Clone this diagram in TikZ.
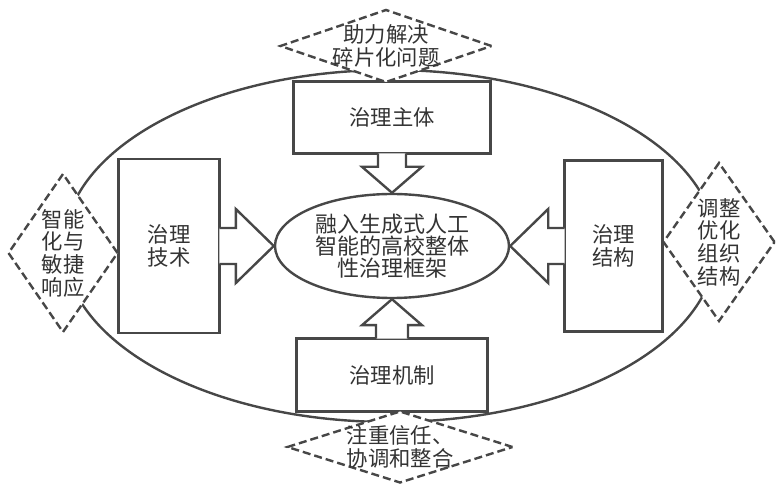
\documentclass[tikz,border=0pt]{standalone}
\usepackage{fontspec}
\setmainfont{Noto Sans CJK SC}
\usetikzlibrary{positioning,shapes.geometric}

\definecolor{linegray}{HTML}{474747}
\definecolor{textgray}{HTML}{333333}

\begin{document}
\begin{tikzpicture}[x=0.75pt,y=0.75pt,
			outline/.style={draw=linegray, line width=1.8pt},
			framed/.style={outline, rectangle, fill=white, text=textgray, align=center, inner sep=0,
				font=\fontsize{16pt}{17pt}\selectfont},
			goal/.style={outline, diamond, dash pattern=on 6pt off 3pt, fill=white, text=textgray,
				align=center, inner sep=-8pt, font=\fontsize{16pt}{17pt}\selectfont},
			core/.style={outline, ellipse, fill=white, text=textgray, align=center, inner sep=0,
				font=\fontsize{16.5pt}{16.5pt}\selectfont},
			blockarrow/.style={outline, fill=white, line join=miter}]
			
			\useasboundingbox (0,0) rectangle (777,489);
			
			\node[outline, ellipse, minimum width=489pt, minimum height=264pt] (outer) at (390,243) {};
			\node[core, minimum width=175.5pt, minimum height=78pt] (kuangjia) at (392,243)
				{融入生成式人工\\智能的高校整体\\性治理框架};
			
			\node[framed, minimum width=147.75pt, minimum height=54pt, above=28.5pt of kuangjia] (zhuti) {治理主体};
			\node[framed, minimum width=143.25pt, minimum height=54.75pt, below=28.5pt of kuangjia] (jizhi) {治理机制};
			\node[framed, minimum width=75.75pt, minimum height=130.5pt, left=39.75pt of kuangjia] (jishu) {治理\\技术};
			\node[framed, minimum width=73.5pt, minimum height=128.25pt, right=39.75pt of kuangjia] (jiegou) {治理\\结构};
			
			\draw[blockarrow] ([xshift=-10.5pt,yshift=1pt]zhuti.south) -- ([xshift=-10.5pt,yshift=-9pt]zhuti.south)
				-- ([xshift=-22.5pt,yshift=-9pt]zhuti.south) -- (kuangjia.north)
				-- ([xshift=22.5pt,yshift=-9pt]zhuti.south) -- ([xshift=10.5pt,yshift=-9pt]zhuti.south)
				-- ([xshift=10.5pt,yshift=1pt]zhuti.south);
			\draw[blockarrow] ([xshift=-12pt,yshift=-1pt]jizhi.north) -- ([xshift=-12pt,yshift=9pt]jizhi.north)
				-- ([xshift=-22.5pt,yshift=9pt]jizhi.north) -- (kuangjia.south)
				-- ([xshift=22.5pt,yshift=9pt]jizhi.north) -- ([xshift=12pt,yshift=9pt]jizhi.north)
				-- ([xshift=12pt,yshift=-1pt]jizhi.north);
			\draw[blockarrow] ([xshift=-1pt,yshift=13.5pt]jishu.east) -- ([xshift=11.25pt,yshift=13.5pt]jishu.east)
				-- ([xshift=11.25pt,yshift=27.75pt]jishu.east) -- (kuangjia.west)
				-- ([xshift=11.25pt,yshift=-27.75pt]jishu.east) -- ([xshift=11.25pt,yshift=-13.5pt]jishu.east)
				-- ([xshift=-1pt,yshift=-13.5pt]jishu.east);
			\draw[blockarrow] ([xshift=1pt,yshift=13.5pt]jiegou.west) -- ([xshift=-11.25pt,yshift=13.5pt]jiegou.west)
				-- ([xshift=-11.25pt,yshift=27.75pt]jiegou.west) -- (kuangjia.east)
				-- ([xshift=-11.25pt,yshift=-27.75pt]jiegou.west) -- ([xshift=-11.25pt,yshift=-13.5pt]jiegou.west)
				-- ([xshift=1pt,yshift=-13.5pt]jiegou.west);
			
			\node[goal, aspect=2.9, minimum width=159pt, minimum height=54.75pt] (suipian) at (386,443)
				{助力解决\\碎片化问题};
			\node[goal, aspect=3.1, minimum width=169.5pt, minimum height=54pt] (xietiao) at (400,42)
				{注重信任、\\协调和整合};
			\node[goal, aspect=0.69, minimum width=82.5pt, minimum height=119.25pt] (minjie) at (63,236)
				{智能\\化与\\敏捷\\响应};
			\node[goal, aspect=0.7, minimum width=84pt, minimum height=119.25pt] (youhua) at (719,247)
				{调整\\优化\\组织\\结构};
		\end{tikzpicture}
\end{document}
